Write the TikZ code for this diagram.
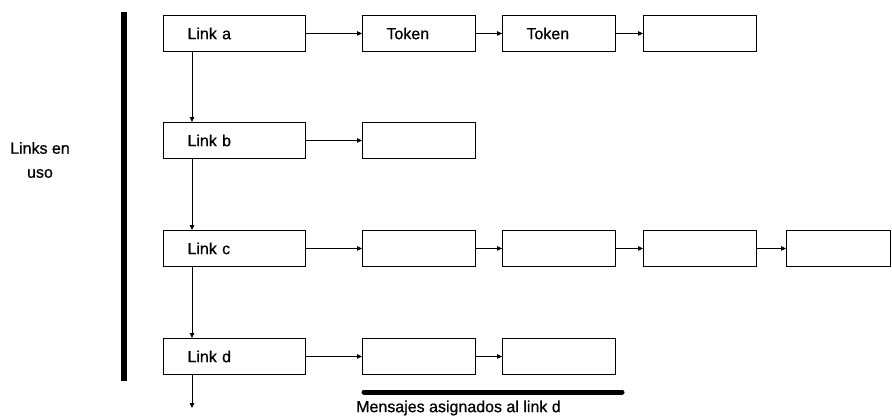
\documentclass[tikz,border=0pt]{standalone}
\usepackage{fontspec}
\setmainfont{Liberation Sans}[FakeBold=0.7]
\usetikzlibrary{arrows.meta}
\begin{document}
\begin{tikzpicture}[x=1pt,y=-1pt,
  every node/.style={font=\fontsize{16}{24}\selectfont},
  linkbox/.style={draw, line width=0.9pt, anchor=north west, minimum height=36pt,
    text width=94pt, inner xsep=24pt, inner ysep=0pt, align=left},
  msgbox/.style={draw, line width=0.9pt, anchor=north west, minimum height=36pt,
    text width=65pt, inner xsep=24pt, inner ysep=0pt, align=left},
  arr/.style={line width=0.8pt, -{Triangle[length=5pt,width=4.5pt]}},
  thickbar/.style={line width=6.5pt}]
\useasboundingbox (0,0) rectangle (892,416);

% list heads
\node[linkbox] (la) at (163,15) {Link a};
\node[linkbox] (lb) at (163,122) {Link b};
\node[linkbox] (lc) at (163,230) {Link c};
\node[linkbox] (ld) at (163,338) {Link d};

% row a
\node[msgbox] (a1) at (362,15) {Token};
\node[msgbox] (a2) at (502,15) {Token};
\node[msgbox] (a3) at (643,15) {};
% row b
\node[msgbox] (b1) at (362,122) {};
% row c
\node[msgbox] (c1) at (362,230) {};
\node[msgbox] (c2) at (502,230) {};
\node[msgbox] (c3) at (643,230) {};
\node[msgbox, text width=56pt] (c4) at (786,230) {};
% row d
\node[msgbox] (d1) at (362,338) {};
\node[msgbox] (d2) at (502,338) {};

% horizontal chains
\draw[arr] (la.east) -- (a1.west);
\draw[arr] (a1.east) -- (a2.west);
\draw[arr] (a2.east) -- (a3.west);
\draw[arr] (lb.east) -- (b1.west);
\draw[arr] (lc.east) -- (c1.west);
\draw[arr] (c1.east) -- (c2.west);
\draw[arr] (c2.east) -- (c3.west);
\draw[arr] (c3.east) -- (c4.west);
\draw[arr] (ld.east) -- (d1.west);
\draw[arr] (d1.east) -- (d2.west);

% vertical chain of links
\coordinate (col) at (192,0);
\coordinate (tail) at (192,408);
\draw[arr] (la.south -| col) -- (lb.north -| col);
\draw[arr] (lb.south -| col) -- (lc.north -| col);
\draw[arr] (lc.south -| col) -- (ld.north -| col);
\draw[arr] (ld.south -| col) -- (tail);

% braces
\coordinate (vtop) at (124,12);
\coordinate (vbot) at (124,381);
\draw[thickbar] (vtop) -- (vbot);
\node[align=center] (inuse) at (40,160) {Links en\\uso};

\coordinate (hl) at (364,392);
\coordinate (hr) at (622,392);
\draw[line width=5pt, line cap=round] (hl) -- (hr);
\node[anchor=west, inner sep=0pt] (assigned) at (356,408) {Mensajes asignados al link d};
\end{tikzpicture}
\end{document}
